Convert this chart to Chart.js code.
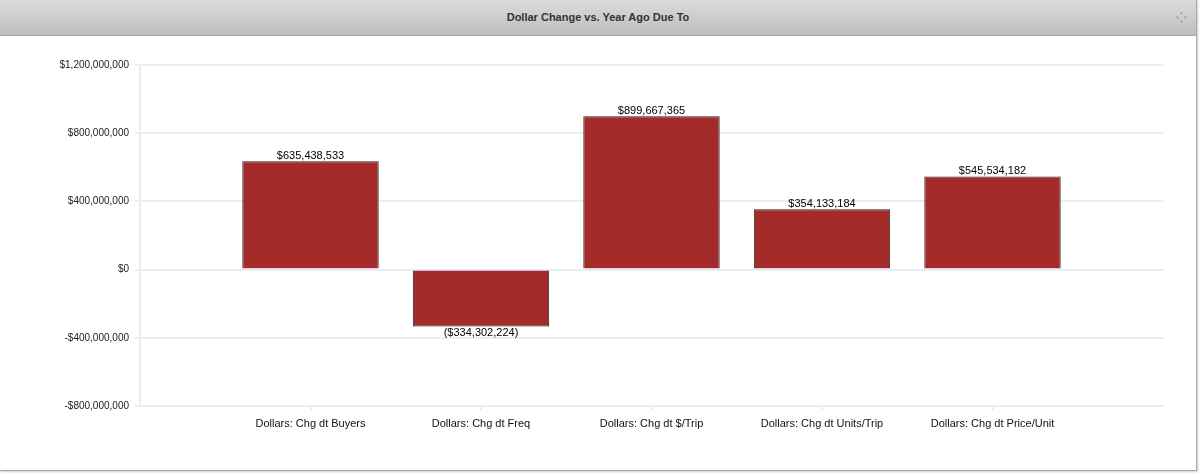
<!DOCTYPE html>
<html>
<head>
<meta charset="utf-8">
<script src="https://cdn.jsdelivr.net/npm/chart.js@4/dist/chart.umd.min.js"></script>
<style>
    body { margin: 0; background: #fff; font-family: "Liberation Sans", Arial, sans-serif; }
    #panel { position: absolute; left: 0; top: 0; width: 1196px; height: 470px;
             border-right: 1px solid #a8a8a8; border-bottom: 1px solid #a8a8a8;
             box-shadow: 1px 1px 2px #ccc; }
    #header { height: 35px; border-bottom: 1px solid #a9a9a9;
              background: linear-gradient(#dcdcdc, #bdbdbd);
              text-align: center; line-height: 35px;
              font-family: "Liberation Sans Narrow", "Arial Narrow", sans-serif;
              font-weight: bold; font-size: 11px; color: #333; position: relative; }
    #icon { position: absolute; right: 9px; top: 0; color: #a0a0a0; font-size: 13px; font-weight: bold; }
    #canvass { position: absolute; left: 0; top: 36px; width: 1196px; height: 434px; }
</style>
</head>
<body>
<div id="panel">
    <div id="header">Dollar Change vs. Year Ago Due To<span id="icon">&#x2058;</span></div>
    <div id="canvass"><canvas id="barchart"></canvas></div>
</div>
<script>
const categories = ["Dollars: Chg dt Buyers", "Dollars: Chg dt Freq", "Dollars: Chg dt $/Trip",
                    "Dollars: Chg dt Units/Trip", "Dollars: Chg dt Price/Unit"];
const dollarChange = [635438533, -334302224, 899667365, 354133184, 545534182];
const yTicks = [-800000000, -400000000, 0, 400000000, 800000000, 1200000000];

function money(v) {
    return (v < 0 ? "-$" : "$") + Math.abs(v).toLocaleString("en-US");
}
function moneyLabel(v) {
    const s = "$" + Math.abs(v).toLocaleString("en-US");
    return v < 0 ? "(" + s + ")" : s;
}

const valueLabels = {
    id: "valueLabels",
    afterDatasetsDraw(chart) {
        const ctx = chart.ctx;
        ctx.save();
        ctx.font = "11px 'Liberation Sans', Arial, sans-serif";
        ctx.fillStyle = "#000";
        ctx.textAlign = "center";
        chart.getDatasetMeta(0).data.forEach((bar, i) => {
            const v = dollarChange[i];
            if (v >= 0) {
                ctx.textBaseline = "bottom";
                ctx.fillText(moneyLabel(v), bar.x, bar.y);
            } else {
                ctx.textBaseline = "top";
                ctx.fillText(moneyLabel(v), bar.x, bar.y + 1);
            }
        });
        ctx.restore();
    }
};

const gridBlue = "#e6eef8";
const ctx = document.getElementById("barchart");
const myChart = new Chart(ctx, {
    type: "bar",
    data: {
        datasets: [{
            data: dollarChange.map((v, i) => ({ x: i + 1, y: v })),
            backgroundColor: "#a52a2a",
            borderColor: "#222",
            borderWidth: 1,
            barPercentage: 1.0,
            categoryPercentage: 0.8
        }]
    },
    options: {
        responsive: true,
        maintainAspectRatio: false,
        animation: false,
        layout: { padding: { top: 29, right: 33, left: 0, bottom: 0 } },
        plugins: { legend: { display: false }, tooltip: { enabled: false } },
        scales: {
            x: {
                type: "linear",
                offset: false,
                min: 0,
                max: categories.length + 1,
                afterBuildTicks: (scale) => {
                    scale.ticks = categories.map((c, i) => ({ value: i + 1 }));
                },
                afterFit: (scale) => { scale.height = 64; },
                grid: { offset: false, drawOnChartArea: false, color: gridBlue, lineWidth: 2, tickLength: 4 },
                border: { display: false },
                ticks: {
                    autoSkip: false,
                    maxRotation: 0,
                    padding: 7,
                    color: "#111",
                    font: { family: "'Liberation Sans', Arial, sans-serif", size: 11 },
                    callback: (v) => categories[v - 1] || ""
                }
            },
            y: {
                min: yTicks[0],
                max: yTicks[yTicks.length - 1],
                afterBuildTicks: (scale) => {
                    scale.ticks = yTicks.map(v => ({ value: v }));
                },
                afterFit: (scale) => { scale.width = 140; },
                grid: { color: gridBlue, lineWidth: 2, tickLength: 5 },
                border: { display: true, color: gridBlue, width: 2 },
                ticks: {
                    padding: 6,
                    color: "#222",
                    font: { family: "'Liberation Sans', Arial, sans-serif", size: 10 },
                    callback: (v) => money(v)
                }
            }
        }
    },
    plugins: [valueLabels]
});
</script>
</body>
</html>
